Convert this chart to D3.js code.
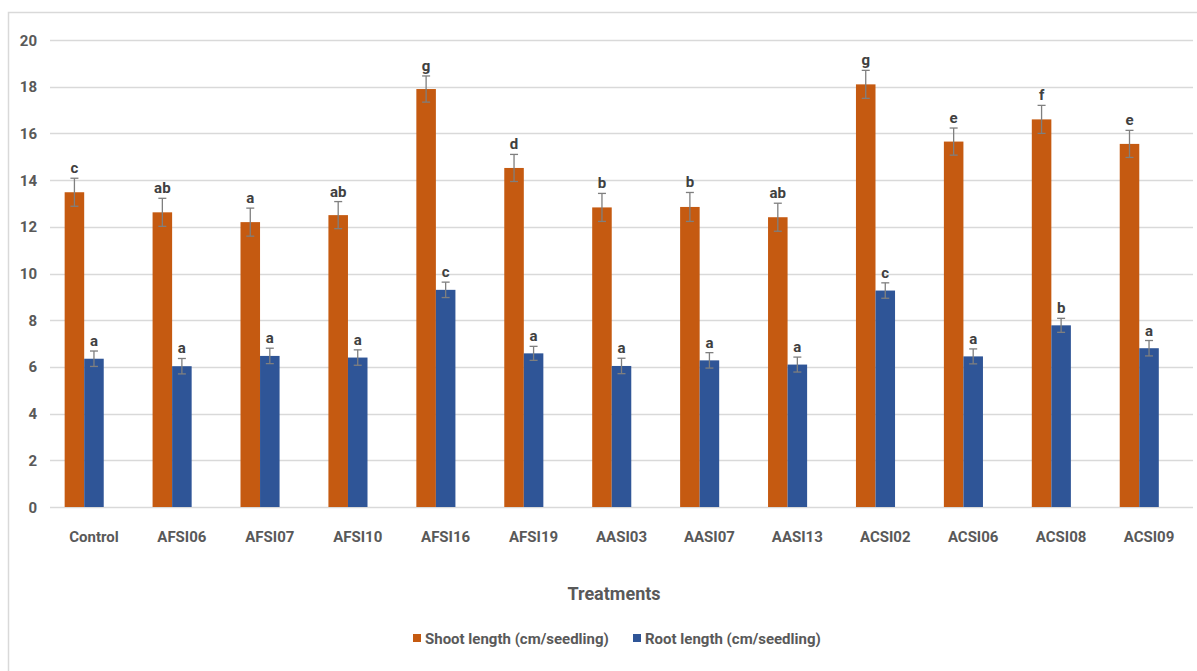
<!DOCTYPE html>
<html>
<head>
<meta charset="utf-8">
<script src="https://cdn.jsdelivr.net/npm/d3@7"></script>
<style>
  body { margin: 0; background: #fff; }
  text { font-family: "Liberation Sans Narrow", "Roboto", sans-serif; font-weight: bold; fill: #595959; }
</style>
</head>
<body>
<div id="paper"></div>
<script>

// chart data.

const treatments = ["Control", "AFSI06", "AFSI07", "AFSI10", "AFSI16", "AFSI19", "AASI03", "AASI07", "AASI13", "ACSI02", "ACSI06", "ACSI08", "ACSI09"]
const shoot = [13.48, 12.62, 12.2, 12.5, 17.9, 14.52, 12.83, 12.85, 12.41, 18.1, 15.65, 16.6, 15.55]
const shoot_err = [0.6, 0.6, 0.6, 0.58, 0.56, 0.58, 0.6, 0.62, 0.6, 0.6, 0.58, 0.6, 0.58]
const shoot_letters = ["c", "ab", "a", "ab", "g", "d", "b", "b", "ab", "g", "e", "f", "e"]
const root = [6.35, 6.03, 6.47, 6.4, 9.3, 6.58, 6.04, 6.28, 6.1, 9.27, 6.45, 7.78, 6.8]
const root_err = [0.33, 0.33, 0.33, 0.33, 0.33, 0.3, 0.33, 0.33, 0.32, 0.33, 0.32, 0.3, 0.33]
const root_letters = ["a", "a", "a", "a", "c", "a", "a", "a", "a", "c", "a", "b", "a"]
const y_ticks = [0, 2, 4, 6, 8, 10, 12, 14, 16, 18, 20]

const series = [
    { name: "Shoot length (cm/seedling)", values: shoot, err: shoot_err, letters: shoot_letters, color: "#C55A11" },
    { name: "Root length (cm/seedling)", values: root, err: root_err, letters: root_letters, color: "#2F5597" }
]

// canvas.

const svg = d3.select("#paper")
    .append("svg")
    .attr("id", "canvas")
    .attr("width", 1197)
    .attr("height", 671)

// outer chart border (only top and left visible in the crop).

svg.append("rect")
    .attr("x", 8.5).attr("y", 12.5)
    .attr("width", 1300).attr("height", 800)
    .style("fill", "none")
    .style("stroke", "#d9d9d9")
    .style("stroke-width", 1.5)

// scales.

const x = d3.scaleBand().domain(treatments).range([50, 1193]).paddingInner(0).paddingOuter(0)
const y = d3.scaleLinear().domain([0, 20]).range([507, 40])

// excel-style cluster of 3 slots (third is empty), gap width 150%.

const slot = x.bandwidth() / (3 + 1.5)
const group_left = d => x(d) + x.bandwidth() / 2 - slot * 1.5

// gridlines.

svg.selectAll(".grid")
    .data(y_ticks)
    .join("line")
    .attr("class", "grid")
    .attr("x1", 50).attr("x2", 1193)
    .attr("y1", d => Math.round(y(d)) + 0.5)
    .attr("y2", d => Math.round(y(d)) + 0.5)
    .style("stroke", "#d9d9d9")
    .style("stroke-width", 1.3)

// y tick labels.

svg.selectAll(".ytick")
    .data(y_ticks)
    .join("text")
    .attr("class", "ytick")
    .attr("x", 37)
    .attr("y", d => y(d) + 5.5)
    .attr("text-anchor", "end")
    .style("font-size", "15px")
    .text(d => d)

// bars, error bars, letters.

series.forEach((s, i) => {

    let rows = treatments.map((t, j) => ({ t: t, v: s.values[j], e: s.err[j], l: s.letters[j] }))
    let cx = d => group_left(d.t) + slot * i + slot / 2

    svg.selectAll(".bar" + i)
        .data(rows)
        .join("rect")
        .attr("class", "bar" + i)
        .attr("x", d => group_left(d.t) + slot * i)
        .attr("y", d => y(d.v))
        .attr("width", slot)
        .attr("height", d => y(0) - y(d.v))
        .style("fill", s.color)

    let eb = svg.selectAll(".err" + i)
        .data(rows)
        .join("g")
        .attr("class", "err" + i)
        .style("stroke", "#7f7f7f")
        .style("stroke-width", 1.3)

    eb.append("line")
        .attr("x1", cx).attr("x2", cx)
        .attr("y1", d => y(d.v + d.e)).attr("y2", d => y(d.v - d.e))
    eb.append("line")
        .attr("x1", d => cx(d) - 4).attr("x2", d => cx(d) + 4)
        .attr("y1", d => y(d.v + d.e)).attr("y2", d => y(d.v + d.e))
    eb.append("line")
        .attr("x1", d => cx(d) - 4).attr("x2", d => cx(d) + 4)
        .attr("y1", d => y(d.v - d.e)).attr("y2", d => y(d.v - d.e))

    svg.selectAll(".letter" + i)
        .data(rows)
        .join("text")
        .attr("class", "letter" + i)
        .attr("x", cx)
        .attr("y", d => y(d.v + d.e) - 5)
        .attr("text-anchor", "middle")
        .style("font-size", "15px")
        .style("fill", "#404040")
        .text(d => d.l)
})

// category labels.

svg.selectAll(".xtick")
    .data(treatments)
    .join("text")
    .attr("class", "xtick")
    .attr("x", d => x(d) + x.bandwidth() / 2)
    .attr("y", 542)
    .attr("text-anchor", "middle")
    .style("font-size", "15px")
    .text(d => d)

// axis title.

svg.append("text")
    .attr("x", 614)
    .attr("y", 600)
    .attr("text-anchor", "middle")
    .style("font-size", "18px")
    .text("Treatments")

// legend.

const legend_x = [413, 633]

series.forEach((s, i) => {
    svg.append("rect")
        .attr("x", legend_x[i]).attr("y", 634)
        .attr("width", 8).attr("height", 8)
        .style("fill", s.color)
    svg.append("text")
        .attr("x", legend_x[i] + 12)
        .attr("y", 644)
        .style("font-size", "15px")
        .text(s.name)
})

</script>
</body>
</html>
